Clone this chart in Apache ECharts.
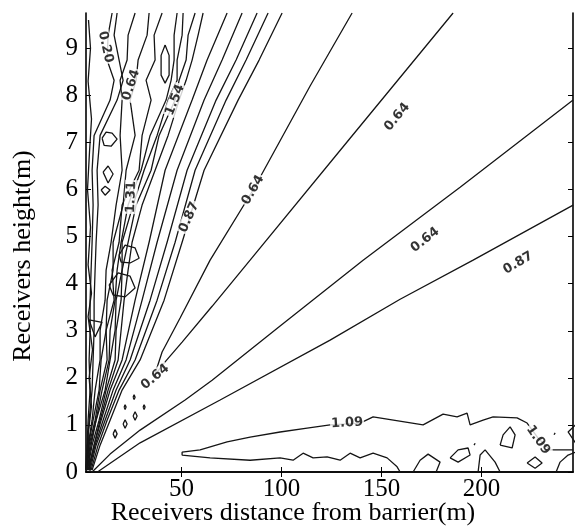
<!DOCTYPE html>
<html>
<head>
<meta charset="utf-8">
<title>Receivers contour</title>
<script src="https://cdn.jsdelivr.net/npm/echarts@6/dist/echarts.min.js"></script>
<style>
    html, body { margin: 0; padding: 0; background: #fff; }
    #chart { width: 575px; height: 531px; }
</style>
</head>
<body>
<div id="chart"></div>
<script type="text/javascript">
    // axis ranges and tick values
    const xRange = [2.25, 245.75];
    const yRange = [0, 9.75];
    const xTicks = [50, 100, 150, 200];
    const yTicks = [0, 1, 2, 3, 4, 5, 6, 7, 8, 9];

    // steep wiggly contours near the barrier: x (m) read at these heights (m)
    const bundleRows = [9.75, 9.28, 8.75, 8.32, 7.90, 7.15, 6.41, 5.67, 4.88, 4.29, 3.65, 3.01, 2.38, 1.74, 1.10, 0.57, 0.04];
    const bundleLines = [
        [60.8, 58.3, 55.3, 52.3, 48.8, 43.3, 36.8, 30.3, 25.3, 23.3, 21.3, 19.8, 18.3, 13.3, 9.3, 6.3, 3.3],
        [56.8, 53.3, 52.3, 48.8, 46.8, 38.8, 34.8, 27.3, 23.3, 20.3, 19.8, 17.3, 16.8, 12.3, 8.8, 5.3, 3.0],
        [50.8, 50.3, 47.8, 47.8, 43.3, 37.8, 31.3, 25.8, 20.3, 20.3, 17.3, 16.8, 14.3, 11.8, 7.3, 4.8, 2.8],
        [47.8, 46.3, 46.3, 44.8, 42.3, 34.3, 29.8, 23.3, 19.8, 17.8, 16.8, 14.3, 13.8, 10.3, 7.3, 4.3, 2.5],
        [40.3, 36.3, 36.8, 32.3, 34.8, 30.3, 28.8, 20.3, 18.8, 15.3, 16.3, 12.3, 12.8, 9.3, 6.8, 3.8, 2.5],
        [33.8, 32.8, 28.3, 27.3, 24.3, 26.8, 22.3, 20.8, 15.8, 15.8, 12.8, 12.3, 9.8, 8.8, 5.8, 3.5, 2.3],
        [26.8, 23.3, 22.8, 19.3, 20.3, 19.3, 20.3, 17.3, 14.8, 12.3, 11.8, 9.3, 9.3, 6.8, 5.3, 3.3, 2.3],
        [17.8, 16.3, 18.8, 20.8, 17.8, 9.3, 7.8, 8.3, 7.3, 6.8, 6.3, 6.3, 5.8, 5.3, 3.8, 3.0, 2.3],
        [15.3, 13.3, 12.8, 16.3, 14.3, 6.3, 5.3, 5.8, 5.3, 4.8, 4.3, 4.3, 3.8, 4.3, 3.3, 2.8, 2.0]
    ];

    // smoother fan contours (0.87 group): x (m) read at these heights (m)
    const fanRows = [9.75, 8.75, 7.90, 6.41, 4.88, 3.65, 2.38, 1.74, 1.10, 0.57, 0.04];
    const fanLines = [
        [100.3, 88.8, 78.3, 61.3, 50.3, 41.3, 29.3, 20.3, 14.3, 9.3, 5.3],
        [93.3, 82.3, 72.3, 56.8, 46.8, 37.8, 26.8, 18.8, 12.8, 8.3, 4.8],
        [87.8, 77.3, 67.3, 52.8, 42.8, 34.3, 24.3, 17.3, 11.8, 7.3, 4.3],
        [80.3, 70.3, 61.3, 47.8, 37.8, 30.3, 22.3, 15.8, 10.8, 6.8, 3.8],
        [72.8, 62.8, 55.3, 41.8, 33.8, 26.8, 20.3, 14.3, 9.8, 6.3, 3.5]
    ];

    // long contours as [x, y] points
    const line087 = [[8, 0], [11.8, 0.11], [29.3, 0.62], [69.3, 1.53], [124.3, 2.80], [159.3, 3.67], [195.8, 4.50], [245.8, 5.67]];
    const line064 = [[5.3, 0], [14.3, 0.38], [29.3, 0.89], [51.8, 1.53], [65.3, 1.95], [99.3, 3.10], [140.8, 4.50], [189.3, 6.05], [245.8, 7.90]];
    const valley064 = [[135.3, 9.75], [114.3, 8.20], [85.8, 5.99], [64.3, 4.50], [49.3, 3.27], [40.3, 2.55], [36.5, 2.05],
        [41.8, 2.34], [50.3, 2.76], [65.3, 3.52], [84.3, 4.50], [134.3, 7.09], [185.8, 9.75]];
    const line109 = [[159.3, 0], [157.8, 0.11], [152.8, 0.30], [145.8, 0.40], [139.3, 0.30], [134.3, 0.40], [129.3, 0.25],
        [122.8, 0.32], [115.8, 0.30], [110.8, 0.40], [105.8, 0.25], [99.3, 0.30], [84.3, 0.25], [64.3, 0.30], [50.3, 0.36],
        [50.3, 0.42], [59.3, 0.47], [72.8, 0.64], [84.3, 0.74], [99.3, 0.85], [112.8, 0.93], [124.3, 1.00], [139.3, 1.04],
        [145.8, 1.17], [170.8, 1.00], [180.8, 1.23], [187.8, 1.17], [192.8, 1.25], [194.3, 1.00], [200.8, 1.10],
        [205.8, 1.17], [217.8, 1.15], [222.8, 1.04], [228.3, 0.72], [234.3, 0.47], [245.8, 0.47]];
    // jagged contour hugging the barrier side
    const edgeLine = [[3.5, 9.6], [4.5, 9.0], [3.3, 8.3], [5.0, 7.5], [4.0, 6.8], [3.0, 6.0], [4.5, 5.2], [3.3, 4.4],
        [5.0, 3.8], [3.3, 3.3], [5.5, 2.6], [3.8, 2.0], [5.0, 1.4], [3.3, 0.8], [4.3, 0]];

    // open pieces that run into the frame
    const openPieces = [
        [[165.8, 0], [169.3, 0.25], [173.3, 0.38], [179.3, 0.21], [177.3, 0]],
        [[198.3, 0], [199.3, 0.36], [201.8, 0.47], [206.8, 0.21], [209.3, 0]],
        [[237.3, 0], [239.3, 0.21], [243.3, 0.36], [247, 0.42]],
        [[247, 1.0], [243.3, 0.85], [247, 0.62]]
    ];

    // closed islands
    const islands = [
        [[41.8, 9.07], [43.8, 8.85], [43.8, 8.43], [41.8, 8.26], [39.8, 8.43], [39.8, 8.85]],
        [[10.3, 7.09], [12.3, 7.22], [15.3, 7.20], [17.8, 7.07], [14.8, 6.92], [11.3, 6.94]],
        [[10.8, 6.37], [13.3, 6.50], [15.8, 6.33], [13.3, 6.14]],
        [[9.8, 5.99], [11.8, 6.07], [14.3, 5.99], [11.8, 5.88]],
        [[18.8, 4.61], [21.8, 4.82], [26.8, 4.76], [28.8, 4.54], [24.3, 4.44], [19.8, 4.46]],
        [[13.8, 3.97], [18.3, 4.23], [24.3, 4.16], [26.8, 3.91], [21.8, 3.72], [15.8, 3.76]],
        [[3.8, 3.23], [10.3, 3.18], [6.8, 2.87]],
        [[25.8, 1.59], [26.3, 1.64], [26.8, 1.59], [26.3, 1.54]],
        [[21.3, 1.38], [21.8, 1.43], [22.3, 1.38], [21.8, 1.33]],
        [[30.8, 1.38], [31.3, 1.43], [31.8, 1.38], [31.3, 1.33]],
        [[25.8, 1.19], [26.8, 1.28], [27.8, 1.19], [26.8, 1.10]],
        [[20.8, 1.02], [21.8, 1.11], [22.8, 1.02], [21.8, 0.93]],
        [[15.8, 0.81], [16.8, 0.90], [17.8, 0.81], [16.8, 0.72]],
        [[184.3, 0.30], [188.3, 0.47], [193.3, 0.51], [194.3, 0.36], [188.3, 0.21]],
        [[196.3, 0.57], [196.8, 0.61], [197.3, 0.57], [196.8, 0.53]],
        [[209.3, 0.57], [210.8, 0.79], [214.3, 0.96], [216.8, 0.79], [215.3, 0.51]],
        [[222.8, 0.19], [226.8, 0.32], [230.3, 0.19], [226.8, 0.08]],
        [[236.3, 0.79], [236.8, 0.83], [237.3, 0.79], [236.8, 0.75]]
    ];

    // contour labels
    const labelText = ['0.20', '0.64', '1.54', '1.31', '0.87', '0.64', '0.64', '0.64', '0.87', '0.64', '1.09', '1.09'];
    const labelPos = [[12.0, 9.03], [24.8, 8.22], [46.8, 7.90], [24.8, 5.84], [53.8, 5.41], [85.8, 5.99],
        [157.8, 7.54], [171.8, 4.93], [218.3, 4.44], [36.8, 2.02], [132.8, 1.04], [228.3, 0.68]];
    const labelAngle = [-78, 72, 68, 88, 66, 60, 50, 38, 30, 40, 3, -55];

    const LINE_COLOR = '#151515';
    const SERIF = '"Liberation Serif", "Times New Roman", serif';

    function rowsToPoints(xs, rows) {
        return xs.map(function (x, i) { return [x, rows[i]]; });
    }

    function closeLoop(pts) {
        return pts.concat([pts[0]]);
    }

    function contour(points, width) {
        return {
            type: 'line',
            data: points,
            symbol: 'none',
            showSymbol: false,
            smooth: false,
            clip: true,
            silent: true,
            animation: false,
            lineStyle: {color: LINE_COLOR, width: width || 1.3}
        };
    }

    let series = [];
    bundleLines.forEach(function (xs) { series.push(contour(rowsToPoints(xs, bundleRows))); });
    fanLines.forEach(function (xs) { series.push(contour(rowsToPoints(xs, fanRows))); });
    series.push(contour(line087));
    series.push(contour(line064));
    series.push(contour(valley064));
    series.push(contour(line109));
    series.push(contour(edgeLine));
    openPieces.forEach(function (p) { series.push(contour(p)); });
    islands.forEach(function (p) { series.push(contour(closeLoop(p))); });

    series.push({
        type: 'scatter',
        symbolSize: 1,
        silent: true,
        animation: false,
        z: 10,
        itemStyle: {color: 'rgba(0,0,0,0)'},
        data: labelPos.map(function (p, i) {
            return {
                value: p,
                name: labelText[i],
                label: {rotate: labelAngle[i]}
            };
        }),
        label: {
            show: true,
            position: 'inside',
            formatter: '{b}',
            color: '#000',
            fontFamily: '"DejaVu Sans", Arial, sans-serif',
            fontWeight: 'bold',
            fontSize: 13,
            backgroundColor: '#fff',
            padding: [0, 1]
        }
    });

    const frameLine = {show: true, lineStyle: {color: '#000', width: 1.6}};
    const tickStyle = {show: true, inside: true, length: 5, lineStyle: {color: '#000', width: 1}};

    let myChart = echarts.init(document.getElementById('chart'), null, {renderer: 'canvas'});
    let option = {
        backgroundColor: '#fff',
        animation: false,
        grid: {left: 86, right: 2, top: 13, bottom: 59, containLabel: false},
        xAxis: [
            {
                type: 'value', position: 'bottom', min: xRange[0], max: xRange[1],
                axisLine: frameLine,
                axisTick: Object.assign({customValues: xTicks}, tickStyle),
                axisLabel: {
                    customValues: xTicks, margin: 5, color: '#000',
                    fontFamily: SERIF, fontSize: 25
                },
                splitLine: {show: false}
            },
            {
                type: 'value', position: 'top', min: xRange[0], max: xRange[1],
                axisLine: frameLine,
                axisTick: Object.assign({customValues: xTicks}, tickStyle),
                axisLabel: {show: false},
                splitLine: {show: false}
            }
        ],
        yAxis: [
            {
                type: 'value', position: 'left', min: yRange[0], max: yRange[1],
                axisLine: frameLine,
                axisTick: Object.assign({customValues: yTicks}, tickStyle),
                axisLabel: {
                    customValues: yTicks, margin: 8, color: '#000',
                    fontFamily: SERIF, fontSize: 25, padding: [10, 0, 0, 0]
                },
                splitLine: {show: false}
            },
            {
                type: 'value', position: 'right', min: yRange[0], max: yRange[1],
                axisLine: frameLine,
                axisTick: Object.assign({customValues: yTicks}, tickStyle),
                axisLabel: {show: false},
                splitLine: {show: false}
            }
        ],
        graphic: [
            {
                type: 'text', x: 293, y: 513,
                style: {
                    text: 'Receivers distance from barrier(m)',
                    font: '26px ' + SERIF, fill: '#000',
                    textAlign: 'center', textVerticalAlign: 'middle'
                }
            },
            {
                type: 'text', x: 23, y: 256, rotation: Math.PI / 2,
                style: {
                    text: 'Receivers height(m)',
                    font: '26px ' + SERIF, fill: '#000',
                    textAlign: 'center', textVerticalAlign: 'middle'
                }
            }
        ],
        series: series
    };
    myChart.setOption(option);
</script>
</body>
</html>
